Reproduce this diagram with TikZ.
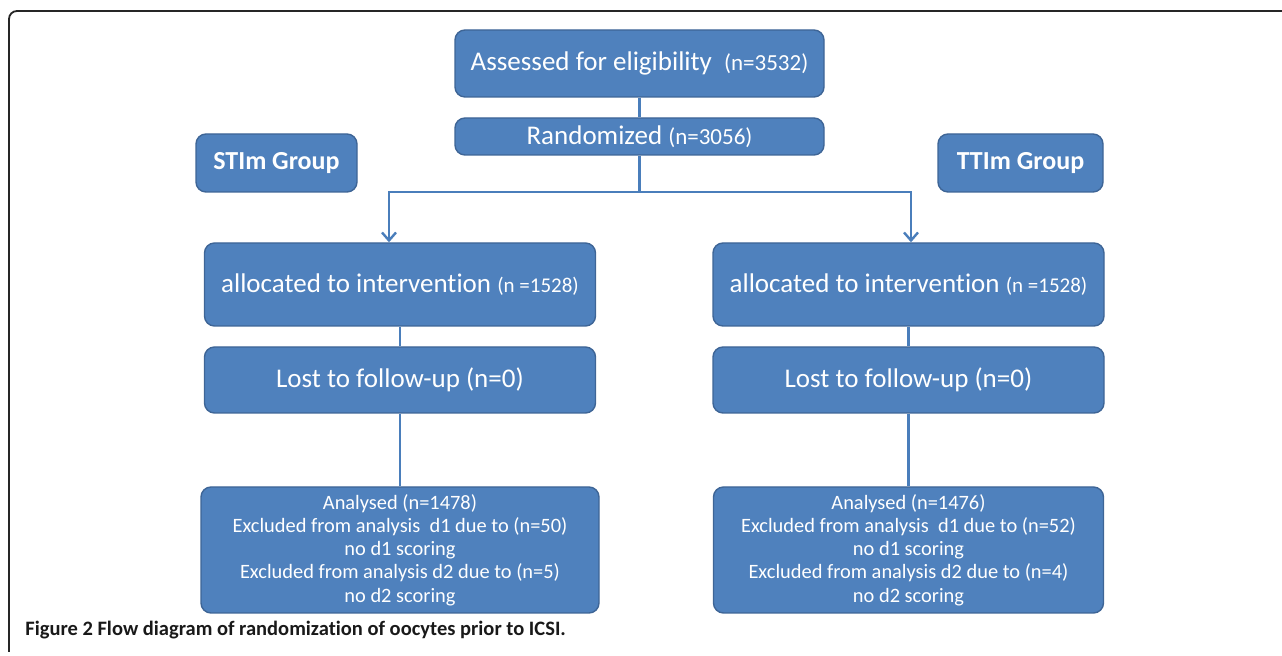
\documentclass[tikz,border=0pt]{standalone}
\usepackage{fontspec}
\setmainfont{Carlito}[Ligatures=NoCommon]
\usetikzlibrary{arrows.meta,positioning}
\definecolor{boxblue}{HTML}{4F81BD}
\definecolor{boxedge}{HTML}{3E6596}
\definecolor{linkblue}{HTML}{4A7EBB}
\newcommand\bigtxt{\fontsize{13.5}{16}\selectfont}
\newcommand\smalltxt{\fontsize{11.5}{13}\selectfont}
\newcommand\tinytxt{\fontsize{10.5}{12}\selectfont}
\tikzset{flowbox/.style={draw=boxedge,fill=boxblue,rounded corners=5pt,text=white,
        align=center,inner sep=2pt,line width=0.7pt},
    groupbox/.style={flowbox,minimum height=29pt,font=\fontsize{13}{15}\selectfont\bfseries},
    armbox/.style={flowbox,minimum width=195.5pt},
    reportbox/.style={flowbox,minimum height=63pt,font=\fontsize{10.2}{11.6}\selectfont},
    link/.style={draw=linkblue,line width=1.2pt},
    >={Straight Barb[length=4pt,width=7pt]}}

\begin{document}
\begin{tikzpicture}[x=0.5pt,y=-0.5pt]

\useasboundingbox (0,0) rectangle (1282,656);

% frame round the figure
\draw [black!85,line width=0.9pt,rounded corners=4pt] (1282,11) -- (9,11) -- (9,652);

\node (assess) [flowbox,minimum width=184.5pt,minimum height=33.5pt] at (639.5,63.5)
    {\bigtxt Assessed for eligibility \ {\smalltxt (n=3532)}};
\node (rand) [flowbox,minimum width=184.5pt,minimum height=18.5pt] at (639.5,136.5)
    {\bigtxt Randomized {\smalltxt (n=3056)}};

\node (stim) [groupbox,minimum width=80.5pt] at (276.5,163) {STIm Group};
\node (ttim) [groupbox,minimum width=82.5pt] at (1020.5,163) {TTIm Group};

\node (allocL) [armbox,minimum height=41.5pt] at (400,284.5)
    {\bigtxt allocated to intervention {\tinytxt (n =1528)}};
\node (allocR) [armbox,minimum height=41.5pt] at (908.5,284.5)
    {\bigtxt allocated to intervention {\tinytxt (n =1528)}};

\node (lostL) [armbox,minimum height=33pt] at (400,380) {\bigtxt Lost to follow-up (n=0)};
\node (lostR) [armbox,minimum height=33pt] at (908.5,380) {\bigtxt Lost to follow-up (n=0)};

\node (analysL) [reportbox,minimum width=199pt] at (400,550)
    {Analysed (n=1478)\\Excluded from analysis \ d1 due to (n=50)\\no d1 scoring\\
     Excluded from analysis d2 due to (n=5)\\no d2 scoring};
\node (analysR) [reportbox,minimum width=195pt] at (908.5,550)
    {Analysed (n=1476)\\Excluded from analysis \ d1 due to (n=52)\\no d1 scoring\\
     Excluded from analysis d2 due to (n=4)\\no d2 scoring};

\coordinate (split) at (639.5,192);
\coordinate (splitL) at (389,192);
\coordinate (splitR) at (911,192);

\draw [link] (assess) -- (rand);
\draw [link] (rand) -- (split);
\draw [link,->] (split) -- (splitL) -- (splitL |- allocL.north);
\draw [link,->] (split) -- (splitR) -- (splitR |- allocR.north);

\draw [link] (allocL) -- (lostL);
\draw [link] (allocR) -- (lostR);
\draw [link] (lostL) -- (analysL);
\draw [link] (lostR) -- (analysR);

\node (caption) [anchor=base west,inner sep=0,text=black!90,font=\fontsize{10.25}{12}\selectfont\bfseries]
    at (25,636) {Figure 2 Flow diagram of randomization of oocytes prior to ICSI.};

\end{tikzpicture}
\end{document}
